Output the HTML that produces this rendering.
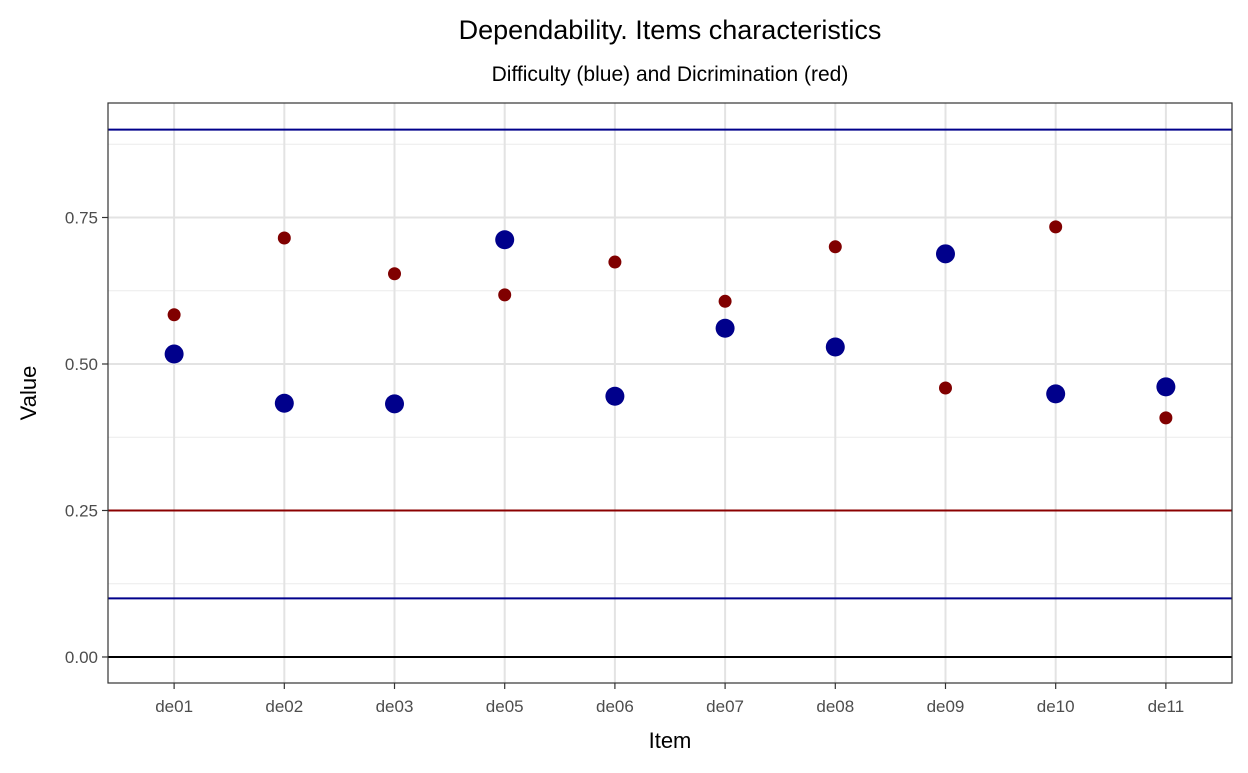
<!DOCTYPE html>
<html><head><meta charset="utf-8"><style>
body{margin:0;background:#fff;font-family:"Liberation Sans",Arial,sans-serif;}
svg text{font-family:"Liberation Sans",Arial,sans-serif;}
</style></head><body>
<svg id="chart" width="1248" height="768" xmlns="http://www.w3.org/2000/svg">
<rect width="1248" height="768" fill="#fff"/>
<text x="670" y="39" font-size="27" text-anchor="middle" fill="#000">Dependability. Items characteristics</text>
<text x="670" y="81" font-size="21" text-anchor="middle" fill="#000">Difficulty (blue) and Dicrimination (red)</text>
<g id="grid"></g><g id="marks"></g><g id="axes"></g>
<text x="670" y="748" font-size="22" text-anchor="middle">Item</text>
<text x="0" y="0" font-size="22" text-anchor="middle" transform="translate(36,393) rotate(-90)">Value</text>
</svg>
<script>
const categories=["de01","de02","de03","de05","de06","de07","de08","de09","de10","de11"];
const difficulty=[0.517,0.433,0.432,0.712,0.445,0.561,0.529,0.688,0.449,0.461];
const discrimination=[0.584,0.715,0.654,0.618,0.674,0.607,0.700,0.459,0.734,0.408];
const yTicks=[0,0.25,0.5,0.75];
const yTickLabels=["0.00","0.25","0.50","0.75"];
const yMinor=[0.125,0.375,0.625,0.875];
const refBlue=[0.1,0.9];
const refRed=[0.25];
const refBlack=[0];

const L=108,R=1232,T=103,B=683;
const yMin=-0.0444,yMax=0.9454;
const y=v=>B-(v-yMin)/(yMax-yMin)*(B-T);
const step=(R-L)/(categories.length-1+1.2);
const x=i=>L+step*(i+0.6);
const NS="http://www.w3.org/2000/svg";
function mk(tag,attrs,parent){const e=document.createElementNS(NS,tag);for(const k in attrs)e.setAttribute(k,attrs[k]);parent.appendChild(e);return e;}
const grid=document.getElementById('grid'),marks=document.getElementById('marks'),axes=document.getElementById('axes');
yMinor.forEach(v=>{const l=mk('line',{x1:L,x2:R,y1:y(v),y2:y(v),stroke:'#ebebeb','stroke-width':1},grid);

});
yTicks.forEach((v,i)=>{const l=mk('line',{x1:L,x2:R,y1:y(v),y2:y(v),stroke:'#e3e3e3','stroke-width':2},grid);


const t=mk('line',{x1:L-6,x2:L,y1:y(v),y2:y(v),stroke:'#333','stroke-width':1.2},axes);


const tx=mk('text',{x:L-10,y:y(v)+6,'font-size':17,'text-anchor':'end',fill:'#4d4d4d'},axes);tx.textContent=yTickLabels[i];

});
categories.forEach((c,i)=>{const l=mk('line',{x1:x(i),x2:x(i),y1:T,y2:B,stroke:'#e3e3e3','stroke-width':2},grid);


const t=mk('line',{x1:x(i),x2:x(i),y1:B,y2:B+6,stroke:'#333','stroke-width':1.2},axes);


const tx=mk('text',{x:x(i),y:B+29,'font-size':17,'text-anchor':'middle',fill:'#4d4d4d'},axes);tx.textContent=c;

});
function hline(v,col,name){const l=mk('line',{x1:L,x2:R,y1:y(v),y2:y(v),stroke:col,'stroke-width':2},marks);

}
refBlue.forEach(v=>hline(v,'#00008b','difficulty-reference-line'));
refRed.forEach(v=>hline(v,'#8b0000','discrimination-reference-line'));
refBlack.forEach(v=>hline(v,'#000','zero-line'));
categories.forEach((c,i)=>{
const d=mk('circle',{cx:x(i),cy:y(difficulty[i]),r:9.5,fill:'#00008b'},marks);


const r=mk('circle',{cx:x(i),cy:y(discrimination[i]),r:6.5,fill:'#800000'},marks);

});
const fr=mk('rect',{x:L,y:T,width:R-L,height:B-T,fill:'none',stroke:'#333','stroke-width':1.2},axes);


</script>
</body></html>
